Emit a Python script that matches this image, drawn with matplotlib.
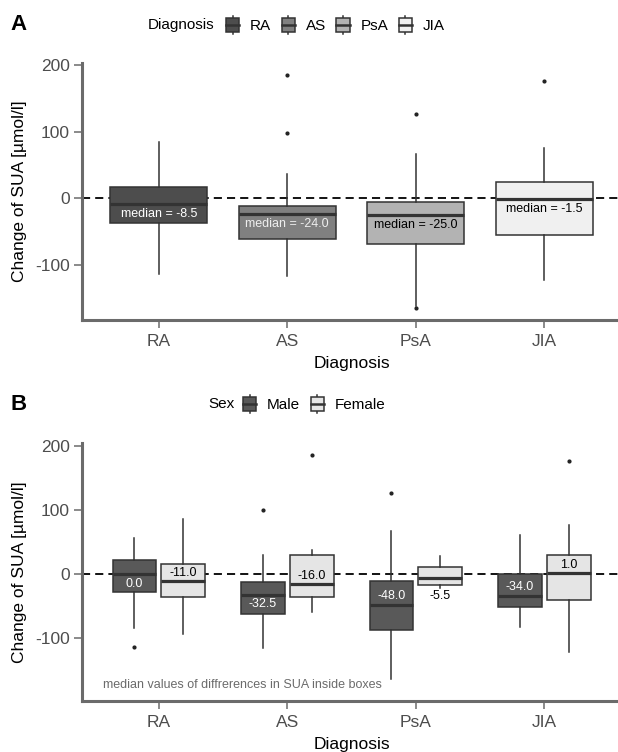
import matplotlib
matplotlib.use("Agg")
import matplotlib.pyplot as plt
import matplotlib.transforms as mtransforms
from matplotlib.patches import Patch, Rectangle
from matplotlib.lines import Line2D
from matplotlib.legend_handler import HandlerBase

plt.rcParams['font.family'] = ['Liberation Sans', 'DejaVu Sans']
plt.rcParams['axes.unicode_minus'] = False

# ---------------- data ----------------
diagnoses = ["RA", "AS", "PsA", "JIA"]

# Panel A: change of SUA by diagnosis
a_q1 = [-37.0, -60.5, -69.0, -55.0]
a_med = [-8.5, -24.0, -25.0, -1.5]
a_q3 = [16.5, -11.5, -6.0, 24.5]
a_whislo = [-114.0, -116.0, -161.0, -123.0]
a_whishi = [85.0, 36.5, 66.0, 76.0]
a_fliers = [[], [185.5, 98.5], [126.0, -165.0], [175.5]]

# Panel B: by diagnosis and sex
sexes = ["Male", "Female"]
m_q1 = [-28.0, -62.5, -88.0, -51.0]
m_med = [0.0, -32.5, -48.0, -34.0]
m_q3 = [22.0, -12.5, -11.0, -0.5]
m_whislo = [-84.0, -116.0, -163.5, -82.0]
m_whishi = [55.7, 29.0, 66.7, 60.5]
m_fliers = [[-114.0], [99.5], [126.0], []]

f_q1 = [-36.5, -35.4, -17.7, -40.0]
f_med = [-11.0, -16.0, -5.5, 1.0]
f_q3 = [16.0, 29.0, 10.4, 29.7]
f_whislo = [-94.0, -59.0, -22.0, -122.0]
f_whishi = [85.4, 37.5, 28.0, 76.0]
f_fliers = [[], [186.0], [], [175.5]]

# ---------------- style ----------------
A_COLORS = ["#4d4d4d", "#808080", "#b3b3b3", "#f0f0f0"]
A_TEXT = ["white", "#eeeeee", "black", "black"]
SEX_COLORS = ["#595959", "#e5e5e5"]
SEX_TEXT = ["white", "black"]
m_label_dy = [-15, -15, 14, 13]
f_label_dy = [12, 13, -29.5, 13]
EDGE = "#333333"
AXCOL = "#6b6b6b"
TICKLAB = "#4d4d4d"

W, H = 618, 752
fig = plt.figure(figsize=(W / 100, H / 100), dpi=100)

left = 81.7 / W
width = (621.4 - 81.7) / W
axA = fig.add_axes([left, 1 - 320 / H, width, (320 - 62.6) / H])
axB = fig.add_axes([left, 1 - 701 / H, width, (701 - 443.1) / H])


def stats(q1, med, q3, lo, hi, fl):
    return dict(med=med, q1=q1, q3=q3, whislo=lo, whishi=hi, fliers=fl)


def draw_box(ax, pos, st, color, w):
    ax.bxp([st], positions=[pos], widths=w, patch_artist=True,
           showcaps=False, manage_ticks=False,
           boxprops=dict(facecolor=color, edgecolor=EDGE, linewidth=1.1),
           medianprops=dict(color=EDGE, linewidth=2.3, solid_capstyle='butt'),
           whiskerprops=dict(color=EDGE, linewidth=1.1),
           flierprops=dict(marker='o', markersize=2.0, markerfacecolor='#222222',
                           markeredgecolor='#222222', linestyle='none'),
           zorder=3)


def style_axes(ax, ylim):
    ax.set_xlim(0.4, 4.6)
    ax.set_ylim(*ylim)
    for s in ["top", "right"]:
        ax.spines[s].set_visible(False)
    for s in ["left", "bottom"]:
        ax.spines[s].set_color(AXCOL)
        ax.spines[s].set_linewidth(2.2)
    ax.set_xticks(range(1, 5))
    ax.set_xticklabels(diagnoses)
    ax.set_yticks([-100, 0, 100, 200])
    ax.tick_params(axis='both', colors=AXCOL, labelcolor=TICKLAB, labelsize=12.5,
                   length=5.5, width=1.1)
    ax.tick_params(axis='x', pad=4.5)
    ax.tick_params(axis='y', pad=3)
    ax.axhline(0, color='black', linestyle=(0, (4.5, 2.8)), linewidth=1.3, zorder=1)
    ax.set_ylabel("Change of SUA [µmol/l]", fontsize=12.5)
    ax.set_xlabel("Diagnosis", fontsize=12.5)
    ax.yaxis.set_label_coords(-0.101, 0.5)
    ax.patch.set_visible(False)


# ---- Panel A ----
for i in range(4):
    st = stats(a_q1[i], a_med[i], a_q3[i], a_whislo[i], a_whishi[i], a_fliers[i])
    draw_box(axA, i + 1, st, A_COLORS[i], 0.755)
    axA.text(i + 1, a_med[i] - 15, f"median = {a_med[i]:.1f}", ha='center', va='center',
             fontsize=9, color=A_TEXT[i], zorder=5)
style_axes(axA, (-182.5, 203.5))
axA.xaxis.set_label_coords(0.5, -0.14)

# ---- Panel B ----
off = 0.19
for i in range(4):
    stm = stats(m_q1[i], m_med[i], m_q3[i], m_whislo[i], m_whishi[i], m_fliers[i])
    stf = stats(f_q1[i], f_med[i], f_q3[i], f_whislo[i], f_whishi[i], f_fliers[i])
    draw_box(axB, i + 1 - off, stm, SEX_COLORS[0], 0.34)
    draw_box(axB, i + 1 + off, stf, SEX_COLORS[1], 0.34)
    axB.text(i + 1 - off, m_med[i] + m_label_dy[i], f"{m_med[i]:.1f}", ha='center', va='center',
             fontsize=9, color=SEX_TEXT[0], zorder=5)
    axB.text(i + 1 + off, f_med[i] + f_label_dy[i], f"{f_med[i]:.1f}", ha='center', va='center',
             fontsize=9, color=SEX_TEXT[1], zorder=5)
style_axes(axB, (-198, 204))
axB.xaxis.set_label_coords(0.5, -0.14)
axB.text((103 - 81.7) / (621.4 - 81.7), -173.5,
         "median values of diffrerences in SUA inside boxes",
         transform=mtransforms.blended_transform_factory(axB.transAxes, axB.transData),
         ha='left', va='center', fontsize=9, color='#6b6b6b')


# ---- legends ----
class BoxKey(HandlerBase):
    def create_artists(self, legend, orig_handle, xdescent, ydescent, width, height,
                       fontsize, trans):
        x0, y0 = -xdescent, -ydescent
        fc = orig_handle.get_facecolor()
        b0, b1 = y0 + 0.15 * height, y0 + 0.85 * height
        whi1 = Line2D([x0 + width / 2] * 2, [y0, b0], color=EDGE, lw=1.1, transform=trans)
        whi2 = Line2D([x0 + width / 2] * 2, [b1, y0 + height], color=EDGE, lw=1.1, transform=trans)
        rect = Rectangle((x0, b0), width, b1 - b0, facecolor=fc, edgecolor=EDGE, lw=1.1,
                         transform=trans)
        med = Line2D([x0, x0 + width], [y0 + height / 2] * 2, color=EDGE, lw=1.8, transform=trans)
        return [whi1, whi2, rect, med]


def add_legend(title, title_x, key_x, y, labels, colors):
    fig.text(title_x / W, 1 - y / H, title, ha='left', va='center', fontsize=11)
    handles = [Patch(facecolor=c) for c in colors]
    leg = fig.legend(handles, labels, loc='center left',
                     bbox_to_anchor=(key_x / W, 1 - y / H), ncol=len(labels),
                     frameon=False, fontsize=11, handlelength=0.88, handleheight=1.5,
                     handletextpad=0.7, columnspacing=0.68, borderpad=0, borderaxespad=0,
                     handler_map={Patch: BoxKey()})
    return leg


add_legend("Diagnosis", 148, 226, 25, diagnoses, A_COLORS)
add_legend("Sex", 208, 243, 404, sexes, SEX_COLORS)

fig.text(10 / W, 1 - 25 / H, "A", ha='left', va='center', fontsize=16, fontweight='bold')
fig.text(10 / W, 1 - 404 / H, "B", ha='left', va='center', fontsize=16, fontweight='bold')

fig.savefig("out.png", dpi=100)
